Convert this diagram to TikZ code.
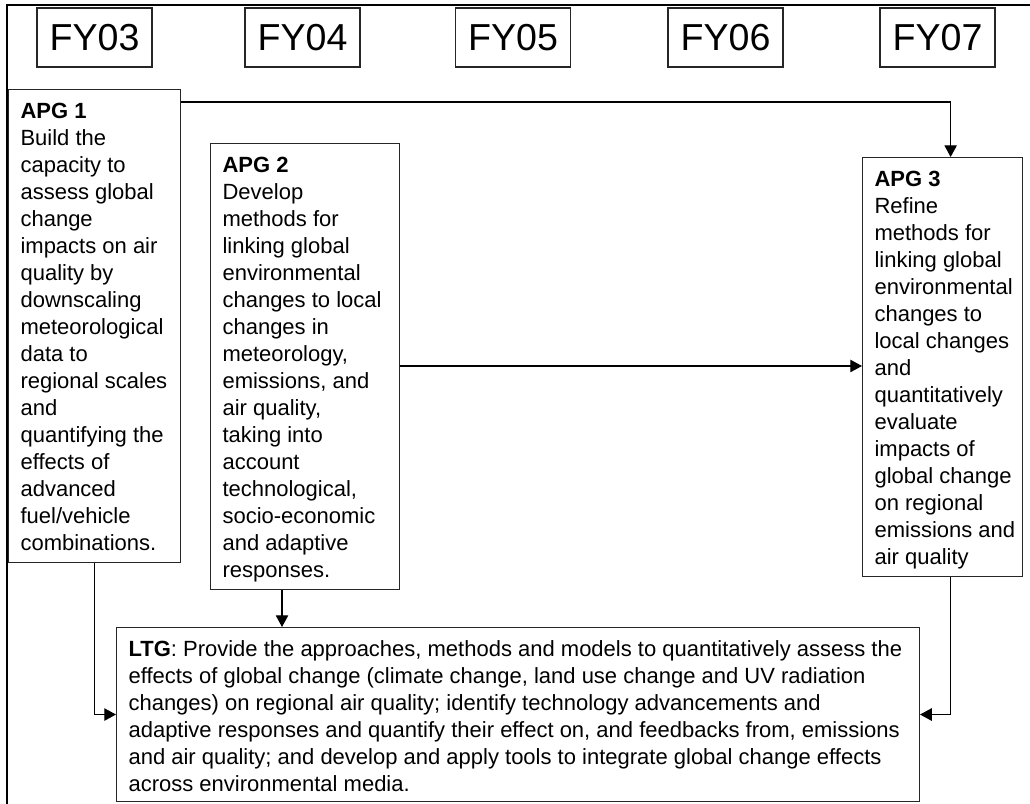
\documentclass[tikz,border=0pt]{standalone}
\usepackage{fontspec}
\setmainfont{Liberation Sans}
\usetikzlibrary{arrows.meta}

% text of a goal box: width, height, lines
\newcommand{\goalpar}[3]{\parbox[c][#2][t]{#1}{\raggedright\leftskip=6.55pt\rule{0pt}{15.8pt}#3}}

\tikzset{
  yearbox/.style={draw=black!85, line width=0.6pt, minimum width=62.7pt, minimum height=32.2pt, inner sep=0pt, font=\fontsize{20.5}{24}\selectfont},
  goalbox/.style={draw=black!85, line width=0.6pt, anchor=north west, inner sep=0pt, font=\fontsize{12}{14.73}\selectfont},
  link/.style={line width=0.6pt, -{Triangle[length=6.4pt,width=6.8pt]}}
}

\begin{document}
\begin{tikzpicture}[x=0.5455pt, y=-0.5455pt]
\useasboundingbox (0,0) rectangle (1030,804);

% frame
\draw[line width=0.6pt] (1030,5) -- (7,5) -- (7,804);

% years
\foreach \yr/\cx in {03/94.5, 04/302.5, 05/513, 06/725.5, 07/937.5}
  \node[yearbox] (fy\yr) at (\cx,37.5) {FY\yr};

% goals
\node[goalbox] (apg1) at (8,89) {\goalpar{93.8pt}{258.0pt}{\textbf{APG 1}\\
Build the\\ capacity to\\ assess global\\ change\\ impacts on air\\ quality by\\
downscaling\\ meteorological\\ data to\\ regional scales\\ and\\ quantifying the\\
effects of\\ advanced\\ fuel/vehicle\\ combinations.}};

\node[goalbox] (apg2) at (210,143) {\goalpar{103.1pt}{243.3pt}{\textbf{APG 2}\\
Develop\\ methods for\\ linking global\\ environmental\\ changes to local\\
changes in\\ meteorology,\\ emissions, and\\ air quality,\\ taking into\\ account\\
technological,\\ socio-economic\\ and adaptive\\ responses.}};

\node[goalbox] (apg3) at (862,157) {\goalpar{87.3pt}{228.6pt}{\textbf{APG 3}\\
Refine\\ methods for\\ linking global\\ environmental\\ changes to\\ local changes\\
and\\ quantitatively\\ evaluate\\ impacts of\\ global change\\ on regional\\
emissions and\\ air quality}};

\node[goalbox] (ltg) at (116,627) {\goalpar{438.0pt}{94.9pt}{\textbf{LTG}: Provide the approaches, methods and models to quantitatively assess the\\
effects of global change (climate change, land use change and UV radiation\\
changes) on regional air quality; identify technology advancements and\\
adaptive responses and quantify their effect on, and feedbacks from, emissions\\
and air quality; and develop and apply tools to integrate global change effects\\
across environmental media.}};

% links
\coordinate (top) at (0,102);
\coordinate (mid) at (0,366);
\coordinate (drop) at (282,0);
\draw[link] (apg1.east |- top) -| ([xshift=4.4pt]apg3.north);
\draw[link] (apg2.east |- mid) -- (apg3.west |- mid);
\draw[link] (apg2.south -| drop) -- (ltg.north -| drop);
\draw[link] (apg1.south) |- (ltg.west);
\draw[link] ([xshift=4.4pt]apg3.south) |- (ltg.east);
\end{tikzpicture}
\end{document}
